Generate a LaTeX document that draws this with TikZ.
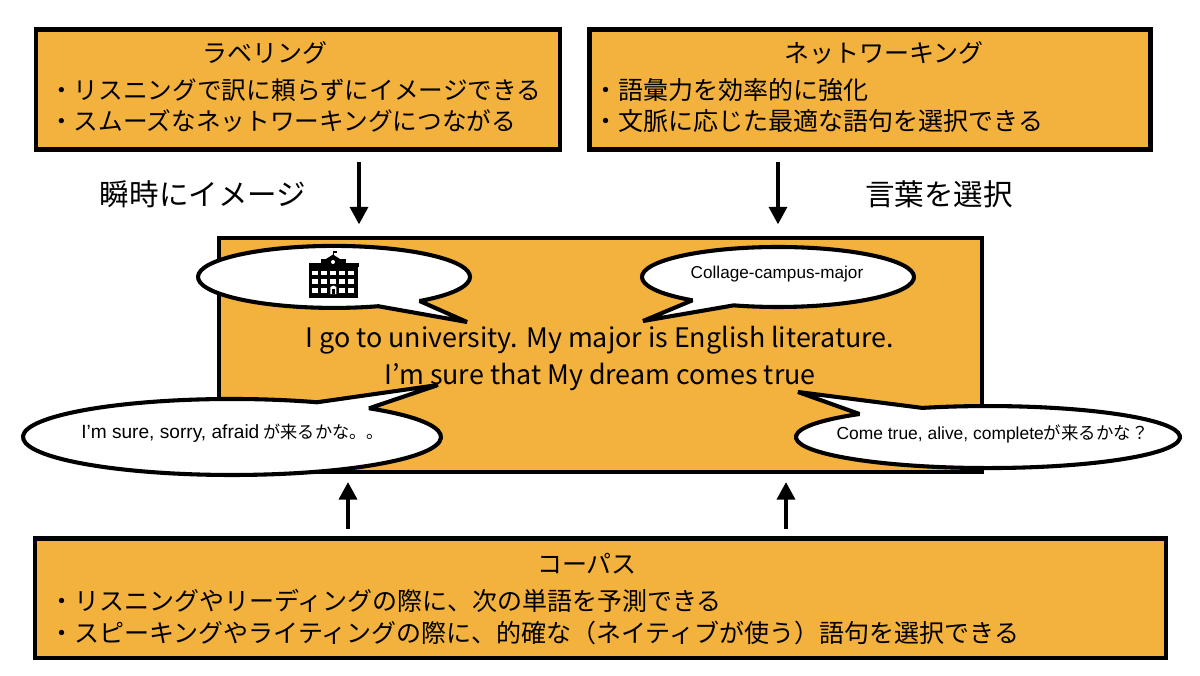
\documentclass[tikz,border=0pt]{standalone}
\usepackage{fontspec}
\setmainfont{Noto Sans CJK JP}
\newfontfamily\latinf{Liberation Sans}
\usetikzlibrary{arrows.meta}
\definecolor{boxorange}{RGB}{243,177,62}

\begin{document}
\begin{tikzpicture}[
  x=0.25mm, y=-0.25mm,
  infob/.style={draw, fill=boxorange, line width=3.3pt, inner sep=0pt},
  headt/.style={font=\fontsize{17.8}{22}\selectfont, inner sep=0pt},
  bodyt/.style={font=\fontsize{17.8}{22}\selectfont, align=left, inner sep=0pt, anchor=west},
  catcht/.style={font=\fontsize{21}{26}\selectfont, inner sep=0pt},
  bubble/.style={draw, fill=white, line width=2.9pt, line join=miter, miter limit=2},
  bubt/.style={inner sep=0pt},
  arr/.style={-{Triangle[length=12.5pt,width=12.5pt]}, line width=3.5pt},
]
\useasboundingbox (0,0) rectangle (1200,675);

% Top boxes
\node[infob, minimum width=131mm, minimum height=30mm] (label) at (298,89.5) {};
\node[infob, minimum width=140.25mm, minimum height=30mm] (network) at (870,89.5) {};
\node[headt] (labelh) at (265,53) {ラベリング};
\node[bodyt, font=\fontsize{17.55}{22}\selectfont] (labelb) at (49,105.5) {・リスニングで訳に頼らずにイメージできる\\[0pt]・スムーズなネットワーキングにつながる};
\node[headt] (networkh) at (884,53) {ネットワーキング};
\node[bodyt] (networkb) at (593,105.5) {・語彙力を効率的に強化\\[0pt]・文脈に応じた最適な語句を選択できる};

% Middle box
\node[infob, minimum width=190.75mm, minimum height=58.5mm] (main) at (600.5,355) {};
\node[font=\fontsize{19.1}{26.3}\selectfont, align=center, inner sep=0pt] (sentence) at (600,358.5)
  {I go to university. My major is English literature.\\I’m sure that My dream comes true};

% Bottom box
\node[infob, minimum width=282.75mm, minimum height=29.9mm] (corpus) at (600.5,598.2) {};
\node[headt] (corpush) at (587,564) {コーパス};
\node[bodyt] (corpusb) at (49,617) {・リスニングやリーディングの際に、次の単語を予測できる\\[1pt]・スピーキングやライティングの際に、的確な（ネイティブが使う）語句を選択できる};

% Labels beside the arrows
\node[catcht] (instant) at (203,194) {瞬時にイメージ};
\node[catcht] (choose) at (939,194) {言葉を選択};

% Arrows
\coordinate (a1) at (359,0);
\coordinate (a2) at (778,0);
\coordinate (a3) at (348,0);
\coordinate (a4) at (786,0);
\draw[arr, shorten <=2.5mm, shorten >=2.8mm] (label.south -| a1) -- (main.north -| a1);
\draw[arr, shorten <=2.5mm, shorten >=2.8mm] (network.south -| a2) -- (main.north -| a2);
\draw[arr, shorten <=1.75mm, shorten >=1.9mm] (corpus.north -| a3) -- (main.south -| a3);
\draw[arr, shorten <=1.75mm, shorten >=1.9mm] (corpus.north -| a4) -- (main.south -| a4);

% Speech bubbles
\draw[bubble] (467,322) -- (334+85.6,277+24)
  arc[start angle=51, end angle=-289, x radius=136, y radius=31] -- cycle;
\draw[bubble] (643,321) -- (778-85.6,277+23.3)
  arc[start angle=129, end angle=469, x radius=136, y radius=30] -- cycle;
\draw[bubble] (438,385) -- (232+137.1,437-28.7)
  arc[start angle=-49, end angle=294, x radius=209, y radius=38] -- cycle;
\draw[bubble] (798,392) -- (988-128.5,437-23)
  arc[start angle=228, end angle=-110, x radius=192, y radius=31] -- cycle;
\node[bubt, font=\fontsize{12.2}{15}\selectfont] (bub2) at (777,274) {\latinf Collage-campus-major};
\node[bubt, font=\fontsize{13.6}{16}\selectfont] (bub3) at (232.5,433.5) {{\latinf I’m sure, sorry, afraid} {\fontsize{12.2}{15}\selectfont が来るかな。。}};
\node[bubt, font=\fontsize{12.4}{15}\selectfont] (bub4) at (992.5,434) {{\latinf Come true, alive, complete}が来るかな？};

% School icon
\fill (309,267) rectangle (358,298);
\fill (308.5,263) rectangle (359,267);
\fill (321,259) rectangle (346,263);
\fill (326,259) -- (333,254.5) -- (340,259) -- cycle;
\draw[line width=0.6pt] (333,255) -- (333,251);
\fill (333,250.5) rectangle (337,252.5);
\fill[white] (333,262) circle[radius=2];
\foreach \i in {0,...,4} {
  \foreach \j in {0,1} {
    \fill[white] (312.3+9*\i,270.7+8.67*\j) rectangle +(6,4.7);
  }
}
\foreach \i in {0,1,3,4} {
  \fill[white] (312.3+9*\i,288) rectangle +(6,4.7);
}
\fill[white] (330.3,287) -- (333.3,285.5) -- (336.3,287) -- (336.3,294) -- (330.3,294) -- cycle;
\fill (331.8,288.5) rectangle (334.8,294);
\end{tikzpicture}
\end{document}
